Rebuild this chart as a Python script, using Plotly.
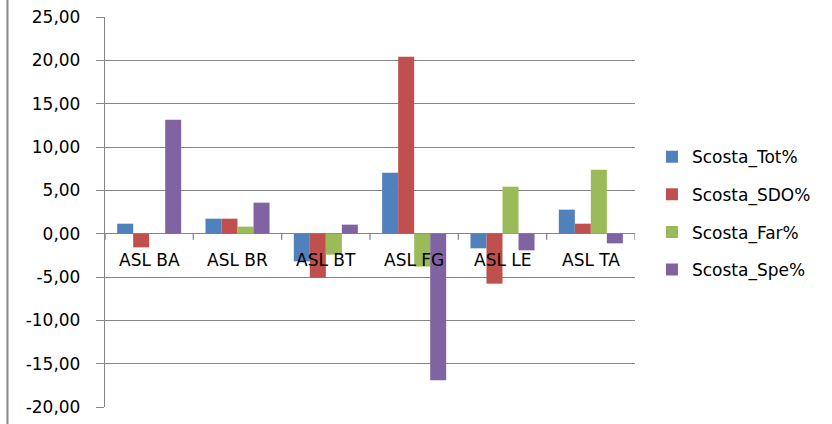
import plotly.graph_objects as go

categories = ["ASL BA", "ASL BR", "ASL BT", "ASL FG", "ASL LE", "ASL TA"]
series_names = ["Scosta_Tot%", "Scosta_SDO%", "Scosta_Far%", "Scosta_Spe%"]
tot = [1.15, 1.73, -3.19, 7.04, -1.69, 2.77]
sdo = [-1.58, 1.73, -5.08, 20.4, -5.77, 1.15]
far = [0.0, 0.81, -2.42, -3.8, 5.42, 7.38]
spe = [13.15, 3.58, 1.04, -16.9, -1.92, -1.12]
colors = ["#4F81BD", "#C0504D", "#9BBB59", "#8064A2"]
tick_vals = [25, 20, 15, 10, 5, 0, -5, -10, -15, -20]
tick_text = ["25,00", "20,00", "15,00", "10,00", "5,00", "0,00", "-5,00", "-10,00", "-15,00", "-20,00"]

FONT = "DejaVu Sans"
GRID = "#868686"

fig = go.Figure()
for name, vals, col in zip(series_names, [tot, sdo, far, spe], colors):
    fig.add_trace(go.Bar(x=list(range(len(categories))), y=vals, name=name,
                         marker=dict(color=col, line=dict(width=0)),
                         legendgroup=name))

annotations = [dict(x=i, y=0, xref="x", yref="y", text=c, showarrow=False,
                    yanchor="middle", yshift=-26,
                    font=dict(family=FONT, size=17, color="#000000"))
               for i, c in enumerate(categories)]

shapes = [dict(type="line", xref="x", yref="y", x0=i - 0.5, x1=i - 0.5, y0=0, y1=-0.7,
               line=dict(color=GRID, width=1.3)) for i in range(len(categories) + 1)]
shapes.append(dict(type="line", xref="paper", yref="paper", x0=-0.184, x1=-0.184, y0=-0.05, y1=1.05,
                   line=dict(color="#888888", width=2)))

fig.update_layout(
    width=832, height=424,
    margin=dict(l=105, r=197, t=17, b=17, autoexpand=False),
    paper_bgcolor="white", plot_bgcolor="white",
    barmode="group", bargap=0.275, bargroupgap=0,
    font=dict(family=FONT, size=17, color="#000000"),
    showlegend=True,
    legend=dict(x=1.032, y=0.497, xanchor="left", yanchor="middle",
                font=dict(family=FONT, size=17), tracegroupgap=12.5,
                itemsizing="constant"),
    annotations=annotations,
    shapes=shapes,
)
fig.update_xaxes(range=[-0.5, len(categories) - 0.5], showticklabels=False, showgrid=False,
                 zeroline=False, showline=False, ticks="", automargin=False)
fig.update_yaxes(range=[-20, 25], tickvals=tick_vals, ticktext=tick_text, showgrid=True,
                 gridcolor=GRID, gridwidth=1.3, zeroline=True, zerolinecolor=GRID, zerolinewidth=1.3,
                 showline=True, linecolor=GRID, linewidth=1.3, ticks="outside", ticklen=8,
                 tickcolor=GRID, tickwidth=1.3, ticklabelstandoff=12, automargin=False,
                 tickfont=dict(family=FONT, size=17, color="#000000"))

fig.write_html("out.html")
